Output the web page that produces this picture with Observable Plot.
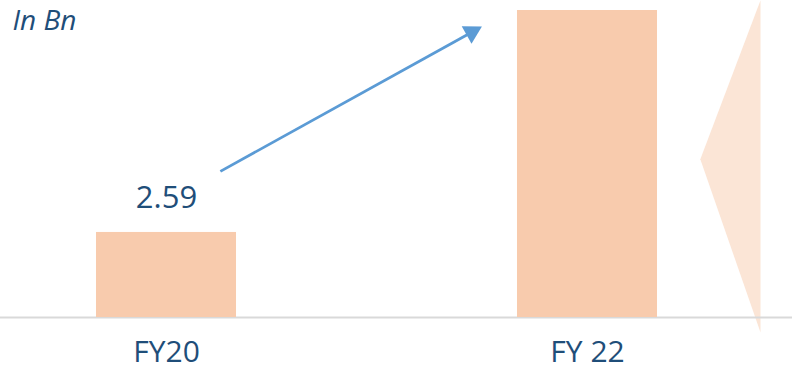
<!DOCTYPE html>
<html><head><meta charset="utf-8">
<script src="https://cdn.jsdelivr.net/npm/d3@7"></script>
<script src="https://cdn.jsdelivr.net/npm/@observablehq/plot@0.6"></script>
<style>html,body{margin:0;padding:0;background:#fff;}</style>
</head><body>
<div id="chart"></div>
<script>
const categories = ["FY20", "FY 22"];
const values = [2.59, 9.35];
const valueLabels = ["2.59", ""];
const unitLabel = "In Bn";
// annotation arrow (x in category-index units, y in value units)
const arrowStart = {x: 0.128, y: 4.45};
const arrowEnd = {x: 0.725, y: 8.69};
// chevron shape on the right
const chevronX = [1.411, 1.268, 1.411];
const chevronY = [9.66, 4.82, -0.46];

const halfBar = 0.1663;
const bars = categories.map((c, i) => ({i, c, v: values[i], label: valueLabels[i]}));
const chevron = chevronX.map((x, k) => ({x, y: chevronY[k]}));
const arrow = [{x1: arrowStart.x, y1: arrowStart.y, x2: arrowEnd.x, y2: arrowEnd.y}];
const angle = Math.atan2(421 * (arrowEnd.x - arrowStart.x), 307 / 9.35 * (arrowEnd.y - arrowStart.y)) * 180 / Math.PI;

const font = "'Open Sans', sans-serif";
const chart = Plot.plot({
  width: 792, height: 371,
  margin: 0,
  style: {fontFamily: font, background: "#fff", overflow: "visible"},
  x: {type: "linear", domain: [0, 1], range: [166, 587], axis: null},
  y: {type: "linear", domain: [0, 9.35], range: [317, 10], axis: null},
  marks: [
    Plot.line(chevron, {x: "x", y: "y", fill: "#FBE5D6", stroke: "none"}),
    Plot.ruleY([0], {stroke: "#D9D9D9", strokeWidth: 2}),
    Plot.rectY(bars, {x1: d => d.i - halfBar, x2: d => d.i + halfBar, y: "v", fill: "#F8CBAD"}),
    Plot.text(bars, {x: "i", y: "v", text: "label", dy: -34, fontSize: 31, fill: "#1F4E79", lineAnchor: "middle"}),
    Plot.text(bars, {x: "i", y: 0, text: "c", dy: 35, fontSize: 30, fill: "#1F4E79", lineAnchor: "middle"}),
    Plot.link(arrow, {x1: "x1", y1: "y1", x2: "x2", y2: "y2", stroke: "#5B9BD5", strokeWidth: 2.8}),
    Plot.dot(arrow, {x: "x2", y: "y2", symbol: "triangle", r: 7.5, fill: "#5B9BD5", stroke: "none", rotate: angle}),
    Plot.text([unitLabel], {frameAnchor: "top-left", dx: 12, dy: 21, text: d => d, fontSize: 28, fontStyle: "italic", fill: "#1F4E79", lineAnchor: "middle"})
  ]
});
document.getElementById("chart").appendChild(chart);
</script>
</body></html>
